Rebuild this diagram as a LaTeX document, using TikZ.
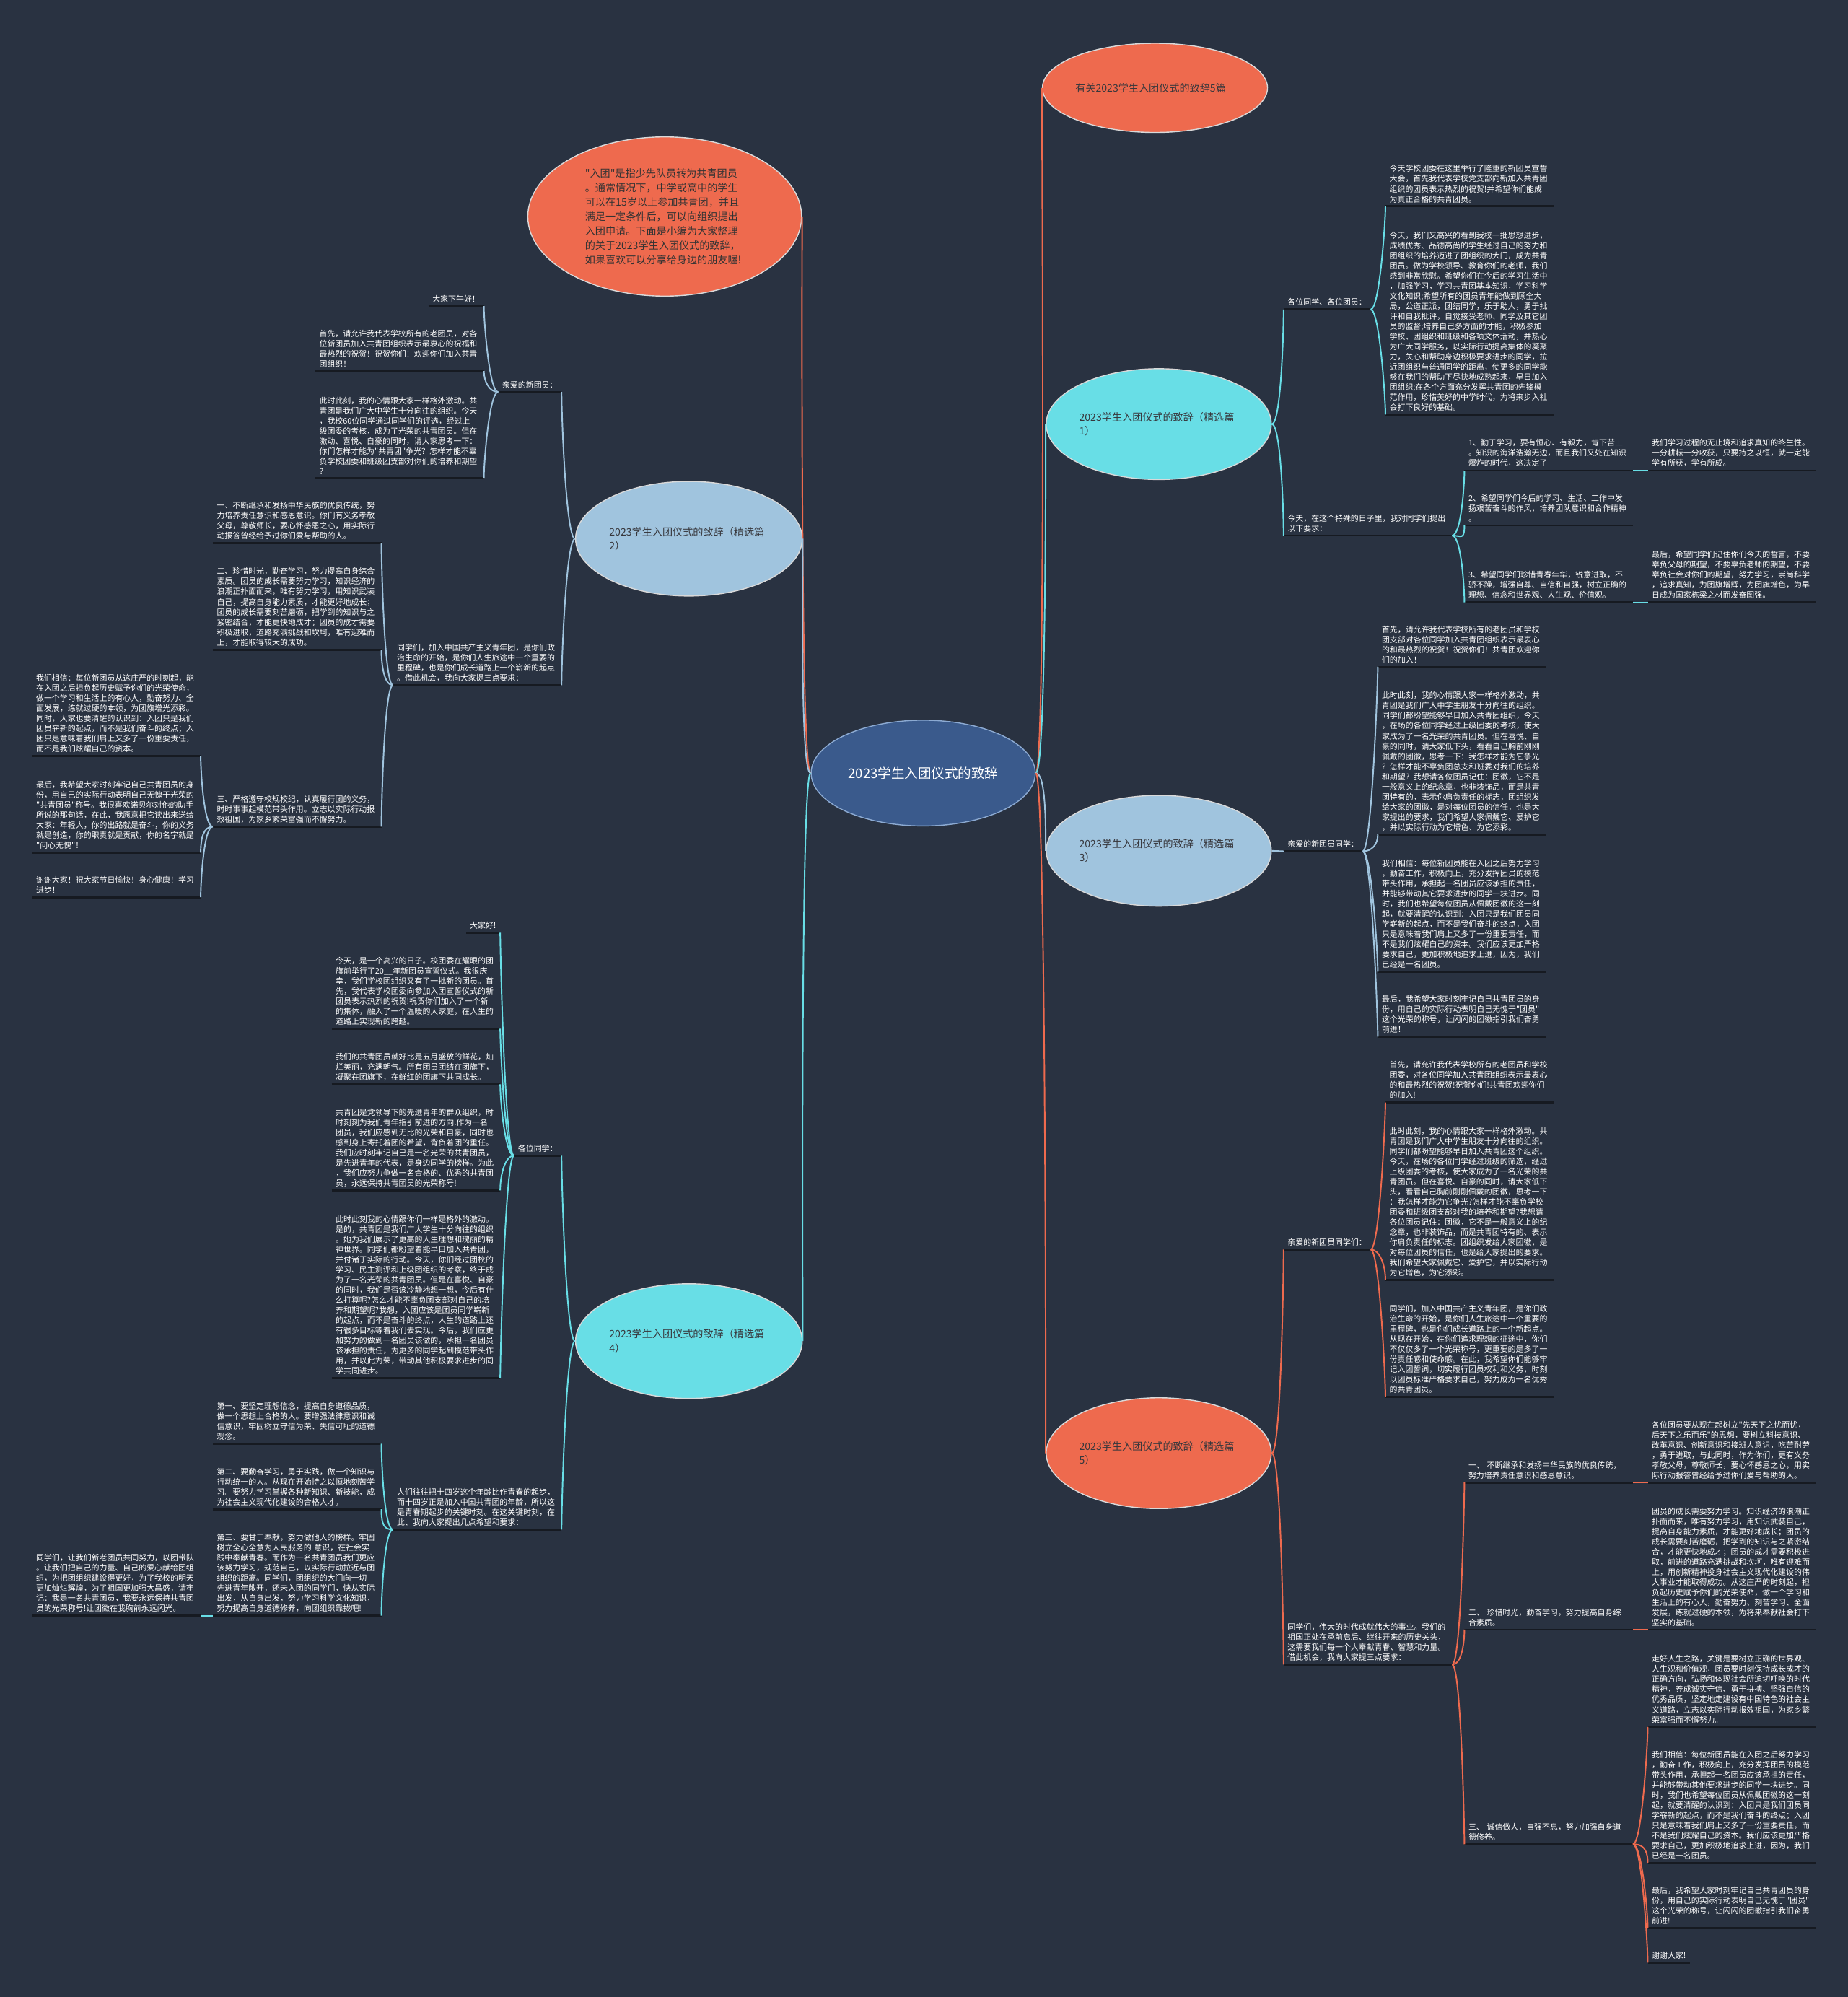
\documentclass[tikz,border=0pt]{standalone}
\usepackage{fontspec}
\newfontfamily\cjk{Noto Sans CJK SC}
\usetikzlibrary{shapes.geometric}
\definecolor{bg}{RGB}{41,50,65}
\definecolor{coral}{RGB}{238,106,78}
\definecolor{cyanc}{RGB}{104,222,230}
\definecolor{lbc}{RGB}{160,196,222}
\definecolor{cfill}{RGB}{58,90,140}
\definecolor{cborder}{RGB}{140,170,210}
\definecolor{ulc}{RGB}{22,26,33}
\definecolor{txtdark}{RGB}{55,55,60}
\newcommand\conL[4]{\draw[con,#1] (#2.south west) .. controls +(-7,0) and +(0,#4) .. (#3.south east);}
\newcommand\conR[4]{\draw[con,#1] (#2.south east) .. controls +(7,0) and +(0,#4) .. (#3.south west);}
\begin{document}
\begin{tikzpicture}[x=1pt,y=-1pt,
 blk/.style={font=\cjk\fontsize{6.2}{7.94}\selectfont, text=white, text width=126pt, align=left, inner xsep=3pt, inner ysep=2.6pt},
 lbl/.style={font=\cjk\fontsize{6.2}{7.94}\selectfont, text=white, inner xsep=3pt, inner ysep=2.6pt},
 ell/.style={ellipse, draw=white!85!black, line width=0.8pt, inner sep=0pt, font=\cjk\fontsize{8}{11}\selectfont, text=txtdark, align=left, text width=125pt},
 uline/.style={draw=ulc, line width=1.6pt},
 con/.style={line width=1.1pt},
]
\fill[bg] (0,0) rectangle (1451,1568);
\useasboundingbox (0,0) rectangle (1451,1568);

% ellipses
\node[ellipse, draw=cborder, line width=0.8pt, fill=cfill, minimum width=170pt, minimum height=83pt, font=\cjk\fontsize{10.5}{13}\selectfont, text=white] (c) at (725,607) {2023学生入团仪式的致辞};
\node[ell, fill=coral, minimum width=171pt, minimum height=70pt] (tr) at (907,69) {有关2023学生入团仪式的致辞5篇};
\node[ell, fill=coral, minimum width=215pt, minimum height=125pt, font=\cjk\fontsize{8}{11.3}\selectfont, text=black!80] (tl) at (522,170) {"入团"是指少先队员转为共青团员\\。通常情况下，中学或高中的学生\\可以在15岁以上参加共青团，并且\\满足一定条件后，可以向组织提出\\入团申请。下面是小编为大家整理\\的关于2023学生入团仪式的致辞，\\如果喜欢可以分享给身边的朋友喔!};
\node[ell, fill=lbc, minimum width=178pt, minimum height=90pt] (e2) at (541,423) {2023学生入团仪式的致辞（精选篇\\2）};
\node[ell, fill=cyanc, minimum width=178pt, minimum height=90pt] (e4) at (541,1053) {2023学生入团仪式的致辞（精选篇\\4）};
\node[ell, fill=cyanc, minimum width=176pt, minimum height=87pt] (e1) at (910,333) {2023学生入团仪式的致辞（精选篇\\1）};
\node[ell, fill=lbc, minimum width=176pt, minimum height=87pt] (e3) at (910,668) {2023学生入团仪式的致辞（精选篇\\3）};
\node[ell, fill=coral, minimum width=176pt, minimum height=87pt] (e5) at (910,1141) {2023学生入团仪式的致辞（精选篇\\5）};

% ---------- branch 2 (left, light blue)
\node[lbl, anchor=south east] (a2) at (441,307.8) {亲爱的新团员：};
\node[lbl, anchor=south east] (a2a) at (380,240.3) {大家下午好！};
\node[blk, anchor=south east] (a2b) at (380,291.3) {首先，请允许我代表学校所有的老团员，对各\\位新团员加入共青团组织表示最衷心的祝福和\\最热烈的祝贺！祝贺你们！欢迎你们加入共青\\团组织！};
\node[blk, anchor=south east] (a2c) at (380,375.2) {此时此刻，我的心情跟大家一样格外激动。共\\青团是我们广大中学生十分向往的组织。今天\\，我校60位同学通过同学们的评选，经过上\\级团委的考核，成为了光荣的共青团员。但在\\激动、喜悦、自豪的同时，请大家思考一下：\\你们怎样才能为"共青团"争光？怎样才能不辜\\负学校团委和班级团支部对你们的培养和期望\\？};
\node[blk, anchor=south east] (b2) at (441,538) {同学们，加入中国共产主义青年团，是你们政\\治生命的开始，是你们人生旅途中一个重要的\\里程碑，也是你们成长道路上一个崭新的起点\\。借此机会，我向大家提三点要求：};
\node[blk, anchor=south east] (b2a) at (299.5,426.2) {一、不断继承和发扬中华民族的优良传统，努\\力培养责任意识和感恩意识。你们有义务孝敬\\父母，尊敬师长，要心怀感恩之心，用实际行\\动报答曾经给予过你们爱与帮助的人。};
\node[blk, anchor=south east] (b2b) at (299.5,510.1) {二、珍惜时光，勤奋学习，努力提高自身综合\\素质。团员的成长需要努力学习，知识经济的\\浪潮正扑面而来，唯有努力学习，用知识武装\\自己，提高自身能力素质，才能更好地成长；\\团员的成长需要刻苦磨砺，把学到的知识与之\\紧密结合，才能更快地成才；团员的成才需要\\积极进取，道路充满挑战和坎坷，唯有迎难而\\上，才能取得较大的成功。};
\node[blk, anchor=south east] (b2c) at (299.5,649) {三、严格遵守校规校纪，认真履行团的义务，\\时时事事起模范带头作用。立志以实际行动报\\效祖国，为家乡繁荣富强而不懈努力。};
\node[blk, anchor=south east] (b2c1) at (157.6,593.4) {我们相信：每位新团员从这庄严的时刻起，能\\在入团之后担负起历史赋予你们的光荣使命，\\做一个学习和生活上的有心人，勤奋努力、全\\面发展，练就过硬的本领，为团旗增光添彩。\\同时，大家也要清醒的认识到：入团只是我们\\团员崭新的起点，而不是我们奋斗的终点；入\\团只是意味着我们肩上又多了一份重要责任，\\而不是我们炫耀自己的资本。};
\node[blk, anchor=south east] (b2c2) at (157.6,669.4) {最后，我希望大家时刻牢记自己共青团员的身\\份，用自己的实际行动表明自己无愧于光荣的\\"共青团员"称号。我很喜欢诺贝尔对他的助手\\所说的那句话，在此，我愿意把它读出来送给\\大家：年轻人，你的出路就是奋斗，你的义务\\就是创造，你的职责就是贡献，你的名字就是\\"问心无愧"！};
\node[blk, anchor=south east] (b2c3) at (157.6,704.5) {谢谢大家！祝大家节日愉快！身心健康！学习\\进步！};

% ---------- branch 4 (left, cyan)
\node[lbl, anchor=south east] (a4) at (441,907.4) {各位同学：};
\node[lbl, anchor=south east] (a4a) at (392.8,732.3) {大家好!};
\node[blk, anchor=south east] (a4b) at (392.8,807.7) {今天，是一个高兴的日子。校团委在耀眼的团\\旗前举行了20\_\_年新团员宣誓仪式。我很庆\\幸，我们学校团组织又有了一批新的团员。首\\先，我代表学校团委向参加入团宣誓仪式的新\\团员表示热烈的祝贺!祝贺你们加入了一个新\\的集体，融入了一个温暖的大家庭，在人生的\\道路上实现新的跨越。};
\node[blk, anchor=south east] (a4c) at (392.8,851.3) {我们的共青团员就好比是五月盛放的鲜花，灿\\烂美丽，充满朝气。所有团员团结在团旗下，\\凝聚在团旗下，在鲜红的团旗下共同成长。};
\node[blk, anchor=south east] (a4d) at (392.8,934.7) {共青团是党领导下的先进青年的群众组织，时\\时刻刻为我们青年指引前进的方向.作为一名\\团员，我们应感到无比的光荣和自豪，同时也\\感到身上寄托着团的希望，背负着团的重任。\\我们应时刻牢记自己是一名光荣的共青团员，\\是先进青年的代表，是身边同学的榜样。为此\\，我们应努力争做一名合格的、优秀的共青团\\员，永远保持共青团员的光荣称号!};
\node[blk, anchor=south east] (a4e) at (392.8,1082) {此时此刻我的心情跟你们一样是格外的激动。\\是的，共青团是我们广大学生十分向往的组织\\。她为我们展示了更高的人生理想和瑰丽的精\\神世界。同学们都盼望着能早日加入共青团，\\并付诸于实际的行动。今天，你们经过团校的\\学习、民主测评和上级团组织的考察，终于成\\为了一名光荣的共青团员。但是在喜悦、自豪\\的同时，我们是否该冷静地想一想，今后有什\\么打算呢?怎么才能不辜负团支部对自己的培\\养和期望呢?我想，入团应该是团员同学崭新\\的起点，而不是奋斗的终点，人生的道路上还\\有很多目标等着我们去实现。今后，我们应更\\加努力的做到一名团员该做的，承担一名团员\\该承担的责任，为更多的同学起到模范带头作\\用，并以此为荣，带动其他积极要求进步的同\\学共同进步。};
\node[blk, anchor=south east] (b4) at (441,1201) {人们往往把十四岁这个年龄比作青春的起步，\\而十四岁正是加入中国共青团的年龄，所以这\\是青春期起步的关键时刻。在这关键时刻，在\\此、我向大家提出几点希望和要求：};
\node[blk, anchor=south east] (b4a) at (299.5,1133.6) {第一、要坚定理想信念，提高自身道德品质，\\做一个思想上合格的人。要增强法律意识和诚\\信意识，牢固树立守信为荣、失信可耻的道德\\观念。};
\node[blk, anchor=south east] (b4b) at (299.5,1185) {第二、要勤奋学习，勇于实践，做一个知识与\\行动统一的人。从现在开始持之以恒地刻苦学\\习。要努力学习掌握各种新知识、新技能，成\\为社会主义现代化建设的合格人才。};
\node[blk, anchor=south east] (b4c) at (299.5,1268.6) {第三、要甘于奉献，努力做他人的榜样。牢固\\树立全心全意为人民服务的 意识，在社会实\\践中奉献青春。而作为一名共青团员我们更应\\该努力学习，规范自己，以实际行动拉近与团\\组织的距离。同学们，团组织的大门向一切\\先进青年敞开，还未入团的同学们，快从实际\\出发，从自身出发，努力学习科学文化知识，\\努力提高自身道德修养，向团组织靠拢吧!};
\node[blk, anchor=south east] (b4c1) at (157.6,1268.6) {同学们，让我们新老团员共同努力，以团带队\\。让我们把自己的力量、自己的爱心献给团组\\织，为把团组织建设得更好，为了我校的明天\\更加灿烂辉煌，为了祖国更加强大昌盛，请牢\\记：我是一名共青团员，我要永远保持共青团\\员的光荣称号!让团徽在我胸前永远闪光。};

% ---------- branch 1 (right, cyan)
\node[lbl, anchor=south west] (a1) at (1008,243) {各位同学、各位团员：};
\node[blk, anchor=south west] (a1a) at (1088,162) {今天学校团委在这里举行了隆重的新团员宣誓\\大会，首先我代表学校党支部向新加入共青团\\组织的团员表示热烈的祝贺!并希望你们能成\\为真正合格的共青团员。};
\node[blk, anchor=south west] (a1b) at (1088,325.5) {今天，我们又高兴的看到我校一批思想进步，\\成绩优秀、品德高尚的学生经过自己的努力和\\团组织的培养迈进了团组织的大门，成为共青\\团员。做为学校领导、教育你们的老师，我们\\感到非常欣慰。希望你们在今后的学习生活中\\，加强学习，学习共青团基本知识，学习科学\\文化知识;希望所有的团员青年能做到顾全大\\局，公道正派，团结同学，乐于助人，勇于批\\评和自我批评，自觉接受老师、同学及其它团\\员的监督;培养自己多方面的才能，积极参加\\学校、团组织和班级和各项文体活动，并热心\\为广大同学服务，以实际行动提高集体的凝聚\\力，关心和帮助身边积极要求进步的同学，拉\\近团组织与普通同学的距离，使更多的同学能\\够在我们的帮助下尽快地成熟起来，早日加入\\团组织;在各个方面充分发挥共青团的先锋模\\范作用，珍惜美好的中学时代，为将来步入社\\会打下良好的基础。};
\node[blk, anchor=south west] (b1) at (1008,420.5) {今天，在这个特殊的日子里，我对同学们提出\\以下要求：};
\node[blk, anchor=south west] (b1a) at (1150,369.5) {1、勤于学习，要有恒心、有毅力，肯下苦工\\。知识的海洋浩瀚无边，而且我们又处在知识\\爆炸的时代，这决定了};
\node[blk, anchor=south west] (b1b) at (1150,412.5) {2、希望同学们今后的学习、生活、工作中发\\扬艰苦奋斗的作风，培养团队意识和合作精神\\。};
\node[blk, anchor=south west] (b1c) at (1150,473) {3、希望同学们珍惜青春年华，锐意进取，不\\骄不躁，增强自尊、自信和自强，树立正确的\\理想、信念和世界观、人生观、价值观。};
\node[blk, anchor=south west] (b1a1) at (1294,369.5) {我们学习过程的无止境和追求真知的终生性。\\一分耕耘一分收获，只要持之以恒，就一定能\\学有所获，学有所成。};
\node[blk, anchor=south west] (b1c1) at (1294,473) {最后，希望同学们记住你们今天的誓言，不要\\辜负父母的期望，不要辜负老师的期望，不要\\辜负社会对你们的期望，努力学习，崇尚科学\\，追求真知，为团旗增辉，为团旗增色，为早\\日成为国家栋梁之材而发奋图强。};

% ---------- branch 3 (right, light blue)
\node[lbl, anchor=south west] (a3) at (1008,668.4) {亲爱的新团员同学：};
\node[blk, anchor=south west] (a3a) at (1082,523.6) {首先，请允许我代表学校所有的老团员和学校\\团支部对各位同学加入共青团组织表示最衷心\\的和最热烈的祝贺！祝贺你们！共青团欢迎你\\们的加入！};
\node[blk, anchor=south west] (a3b) at (1082,655.2) {此时此刻，我的心情跟大家一样格外激动，共\\青团是我们广大中学生朋友十分向往的组织。\\同学们都盼望能够早日加入共青团组织，今天\\，在场的各位同学经过上级团委的考核，使大\\家成为了一名光荣的共青团员。但在喜悦、自\\豪的同时，请大家低下头，看看自己胸前刚刚\\佩戴的团徽，思考一下：我怎样才能为它争光\\？怎样才能不辜负团总支和班委对我们的培养\\和期望？我想请各位团员记住：团徽，它不是\\一般意义上的纪念章，也非装饰品，而是共青\\团特有的，表示你肩负责任的标志，团组织发\\给大家的团徽，是对每位团员的信任，也是大\\家提出的要求，我们希望大家佩戴它、爱护它\\，并以实际行动为它增色、为它添彩。};
\node[blk, anchor=south west] (a3c) at (1082,762.9) {我们相信：每位新团员能在入团之后努力学习\\，勤奋工作，积极向上，充分发挥团员的模范\\带头作用，承担起一名团员应该承担的责任，\\并能够带动其它要求进步的同学一块进步。同\\时，我们也希望每位团员从佩戴团徽的这一刻\\起，就要清醒的认识到：入团只是我们团员同\\学崭新的起点，而不是我们奋斗的终点，入团\\只是意味着我们肩上又多了一份重要责任，而\\不是我们炫耀自己的资本。我们应该更加严格\\要求自己，更加积极地追求上进，因为，我们\\已经是一名团员。};
\node[blk, anchor=south west] (a3d) at (1082,814) {最后，我希望大家时刻牢记自己共青团员的身\\份，用自己的实际行动表明自己无愧于"团员"\\这个光荣的称号，让闪闪的团徽指引我们奋勇\\前进！};

% ---------- branch 5 (right, coral)
\node[lbl, anchor=south west] (a5) at (1008,981.1) {亲爱的新团员同学们：};
\node[blk, anchor=south west] (a5a) at (1088,865.7) {首先，请允许我代表学校所有的老团员和学校\\团委，对各位同学加入共青团组织表示最衷心\\的和最热烈的祝贺!祝贺你们!共青团欢迎你们\\的加入!};
\node[blk, anchor=south west] (a5b) at (1088,1005.1) {此时此刻，我的心情跟大家一样格外激动。共\\青团是我们广大中学生朋友十分向往的组织。\\同学们都盼望能够早日加入共青团这个组织。\\今天，在场的各位同学经过班级的筛选，经过\\上级团委的考核，使大家成为了一名光荣的共\\青团员。但在喜悦、自豪的同时，请大家低下\\头，看看自己胸前刚刚佩戴的团徽，思考一下\\：我怎样才能为它争光?怎样才能不辜负学校\\团委和班级团支部对我的培养和期望?我想请\\各位团员记住：团徽，它不是一般意义上的纪\\念章，也非装饰品，而是共青团特有的、表示\\你肩负责任的标志。团组织发给大家团徽，是\\对每位团员的信任，也是给大家提出的要求。\\我们希望大家佩戴它、爱护它，并以实际行动\\为它增色，为它添彩。};
\node[blk, anchor=south west] (a5c) at (1088,1096.7) {同学们，加入中国共产主义青年团，是你们政\\治生命的开始，是你们人生旅途中一个重要的\\里程碑，也是你们成长道路上的一个新起点。\\从现在开始，在你们追求理想的征途中，你们\\不仅仅多了一个光荣称号，更重要的是多了一\\份责任感和使命感。在此，我希望你们能够牢\\记入团誓词，切实履行团员权利和义务，时刻\\以团员标准严格要求自己，努力成为一名优秀\\的共青团员。};
\node[blk, anchor=south west] (b5) at (1008,1307) {同学们，伟大的时代成就伟大的事业。我们的\\祖国正处在承前启后、继往开来的历史关头，\\这需要我们每一个人奉献青春、智慧和力量。\\借此机会，我向大家提三点要求：};
\node[blk, anchor=south west] (b5a) at (1150,1164) {一、 不断继承和发扬中华民族的优良传统，\\努力培养责任意识和感恩意识。};
\node[blk, anchor=south west] (b5b) at (1150,1279.5) {二、 珍惜时光，勤奋学习，努力提高自身综\\合素质。};
\node[blk, anchor=south west] (b5c) at (1150,1448) {三、 诚信做人，自强不息，努力加强自身道\\德修养。};
\node[blk, anchor=south west] (b5a1) at (1294,1164) {各位团员要从现在起树立"先天下之忧而忧，\\后天下之乐而乐"的思想，要树立科技意识、\\改革意识、创新意识和接班人意识，吃苦耐劳\\，勇于进取，与此同时，作为你们，更有义务\\孝敬父母，尊敬师长，要心怀感恩之心，用实\\际行动报答曾经给予过你们爱与帮助的人。};
\node[blk, anchor=south west] (b5b1) at (1294,1279.5) {团员的成长需要努力学习。知识经济的浪潮正\\扑面而来，唯有努力学习，用知识武装自己，\\提高自身能力素质，才能更好地成长；团员的\\成长需要刻苦磨砺，把学到的知识与之紧密结\\合，才能更快地成才；团员的成才需要积极进\\取，前进的道路充满挑战和坎坷，唯有迎难而\\上，用创新精神投身社会主义现代化建设的伟\\大事业才能取得成功。从这庄严的时刻起，担\\负起历史赋予你们的光荣使命，做一个学习和\\生活上的有心人，勤奋努力、刻苦学习、全面\\发展，练就过硬的本领，为将来奉献社会打下\\坚实的基础。};
\node[blk, anchor=south west] (b5c1) at (1294,1356) {走好人生之路，关键是要树立正确的世界观、\\人生观和价值观，团员要时刻保持成长成才的\\正确方向，弘扬和体现社会所迫切呼唤的时代\\精神，养成诚实守信、勇于拼搏、坚强自信的\\优秀品质，坚定地走建设有中国特色的社会主\\义道路，立志以实际行动报效祖国，为家乡繁\\荣富强而不懈努力。};
\node[blk, anchor=south west] (b5c2) at (1294,1463) {我们相信：每位新团员能在入团之后努力学习\\，勤奋工作，积极向上，充分发挥团员的模范\\带头作用，承担起一名团员应该承担的责任，\\并能够带动其他要求进步的同学一块进步。同\\时，我们也希望每位团员从佩戴团徽的这一刻\\起，就要清醒的认识到：入团只是我们团员同\\学崭新的起点，而不是我们奋斗的终点；入团\\只是意味着我们肩上又多了一份重要责任，而\\不是我们炫耀自己的资本。我们应该更加严格\\要求自己，更加积极地追求上进，因为，我们\\已经是一名团员。};
\node[blk, anchor=south west] (b5c3) at (1294,1514) {最后，我希望大家时刻牢记自己共青团员的身\\份，用自己的实际行动表明自己无愧于"团员"\\这个光荣的称号，让闪闪的团徽指引我们奋勇\\前进!};
\node[lbl, anchor=south west] (b5c4) at (1294,1541) {谢谢大家!};

% underlines
\foreach \n in {a2,a2a,a2b,a2c,b2,b2a,b2b,b2c,b2c1,b2c2,b2c3,
 a4,a4a,a4b,a4c,a4d,a4e,b4,b4a,b4b,b4c,b4c1,
 a1,a1a,a1b,b1,b1a,b1b,b1c,b1a1,b1c1,
 a3,a3a,a3b,a3c,a3d,
 a5,a5a,a5b,a5c,b5,b5a,b5b,b5c,b5a1,b5b1,b5c1,b5c2,b5c3,b5c4}
 {\draw[uline] (\n.south west) -- (\n.south east);}

% center to ellipses
\draw[con,coral] (c.west) .. controls +(-8,0) and +(0,60) .. (tl.east);
\draw[con,lbc] (c.west) .. controls +(-8,0) and +(0,40) .. (e2.east);
\draw[con,cyanc] (c.west) .. controls +(-8,0) and +(0,-40) .. (e4.east);
\draw[con,coral] (c.east) .. controls +(8,0) and +(0,60) .. (tr.west);
\draw[con,cyanc] (c.east) .. controls +(8,0) and +(0,40) .. (e1.west);
\draw[con,lbc] (c.east) .. controls +(8,0) and +(0,-20) .. (e3.west);
\draw[con,coral] (c.east) .. controls +(8,0) and +(0,-40) .. (e5.west);

% ellipses to first level
\draw[con,lbc] (e2.west) .. controls +(-7,0) and +(0,20) .. (a2.south east);
\draw[con,lbc] (e2.west) .. controls +(-7,0) and +(0,-20) .. (b2.south east);
\draw[con,cyanc] (e4.west) .. controls +(-7,0) and +(0,20) .. (a4.south east);
\draw[con,cyanc] (e4.west) .. controls +(-7,0) and +(0,-20) .. (b4.south east);
\draw[con,cyanc] (e1.east) .. controls +(7,0) and +(0,20) .. (a1.south west);
\draw[con,cyanc] (e1.east) .. controls +(7,0) and +(0,-20) .. (b1.south west);
\draw[con,lbc] (e3.east) -- (a3.south west);
\draw[con,coral] (e5.east) .. controls +(7,0) and +(0,20) .. (a5.south west);
\draw[con,coral] (e5.east) .. controls +(7,0) and +(0,-20) .. (b5.south west);

% branch 2
\conL{lbc}{a2}{a2a}{12}
\conL{lbc}{a2}{a2b}{8}
\conL{lbc}{a2}{a2c}{-12}
\conL{lbc}{b2}{b2a}{12}
\conL{lbc}{b2}{b2b}{12}
\conL{lbc}{b2}{b2c}{-12}
\conL{lbc}{b2c}{b2c1}{12}
\conL{lbc}{b2c}{b2c2}{-12}
\conL{lbc}{b2c}{b2c3}{-12}
% branch 4
\conL{cyanc}{a4}{a4a}{12}
\conL{cyanc}{a4}{a4b}{12}
\conL{cyanc}{a4}{a4c}{12}
\conL{cyanc}{a4}{a4d}{-12}
\conL{cyanc}{a4}{a4e}{-12}
\conL{cyanc}{b4}{b4a}{12}
\conL{cyanc}{b4}{b4b}{12}
\conL{cyanc}{b4}{b4c}{-12}
\draw[con,cyanc] (b4c.south west) -- (b4c1.south east);
% branch 1
\conR{cyanc}{a1}{a1a}{12}
\conR{cyanc}{a1}{a1b}{-12}
\conR{cyanc}{b1}{b1a}{12}
\conR{cyanc}{b1}{b1b}{12}
\conR{cyanc}{b1}{b1c}{-12}
\draw[con,cyanc] (b1a.south east) -- (b1a1.south west);
\draw[con,cyanc] (b1c.south east) -- (b1c1.south west);
% branch 3
\conR{lbc}{a3}{a3a}{12}
\conR{lbc}{a3}{a3b}{8}
\conR{lbc}{a3}{a3c}{-12}
\conR{lbc}{a3}{a3d}{-12}
% branch 5
\conR{coral}{a5}{a5a}{12}
\conR{coral}{a5}{a5b}{-12}
\conR{coral}{a5}{a5c}{-12}
\conR{coral}{b5}{b5a}{12}
\conR{coral}{b5}{b5b}{12}
\conR{coral}{b5}{b5c}{-12}
\draw[con,coral] (b5a.south east) -- (b5a1.south west);
\draw[con,coral] (b5b.south east) -- (b5b1.south west);
\conR{coral}{b5c}{b5c1}{12}
\conR{coral}{b5c}{b5c2}{-12}
\conR{coral}{b5c}{b5c3}{-12}
\conR{coral}{b5c}{b5c4}{-12}
\end{tikzpicture}
\end{document}
